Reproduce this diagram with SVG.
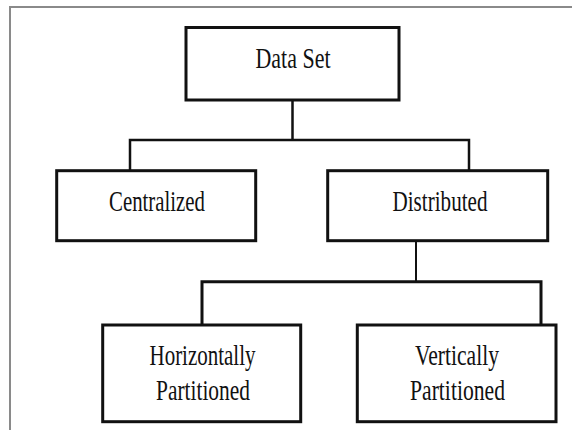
<svg xmlns="http://www.w3.org/2000/svg" width="572" height="430" viewBox="0 0 572 430">
<style>
.box{fill:#fff;stroke:#111;stroke-width:3}
.lbl{font-family:'Liberation Serif','Times New Roman','DejaVu Serif',serif;font-size:29px;fill:#111;text-anchor:middle}
.con{fill:none;stroke:#111;stroke-linejoin:miter}
</style>
<rect x="0" y="0" width="572" height="430" fill="#fff"/>
<path d="M10,430 V7 H572" fill="none" stroke="#8a8a8a" stroke-width="2"/>
<g id="connectors">
<path class="con" stroke-width="2.5" d="M292.5,100 V140 M130,170 V140 H469 V170"/>
<path class="con" stroke-width="2" d="M416,240.7 V281.7"/>
<path class="con" stroke-width="3" d="M202,325 V281.7 H541 V325"/>
</g>
<g id="n-dataset">
<rect class="box" x="186" y="27.5" width="213" height="72.5"/>
<text class="lbl" font-family="Liberation Serif, serif" x="293" y="68" textLength="75" lengthAdjust="spacingAndGlyphs">Data Set</text>
</g>
<g id="n-centralized">
<rect class="box" x="56.7" y="170.7" width="199" height="70"/>
<text class="lbl" font-family="Liberation Serif, serif" x="157" y="211" textLength="96" lengthAdjust="spacingAndGlyphs">Centralized</text>
</g>
<g id="n-distributed">
<rect class="box" x="327.7" y="170.7" width="220" height="70"/>
<text class="lbl" font-family="Liberation Serif, serif" x="440" y="211" textLength="95" lengthAdjust="spacingAndGlyphs">Distributed</text>
</g>
<g id="n-horizontal">
<rect class="box" x="102.7" y="325" width="198" height="96.7"/>
<text class="lbl" font-family="Liberation Serif, serif" x="202.5" y="365" textLength="106" lengthAdjust="spacingAndGlyphs">Horizontally</text>
<text class="lbl" font-family="Liberation Serif, serif" x="203" y="400" textLength="94" lengthAdjust="spacingAndGlyphs">Partitioned</text>
</g>
<g id="n-vertical">
<rect class="box" x="357.3" y="325" width="198.7" height="96.7"/>
<text class="lbl" font-family="Liberation Serif, serif" x="457" y="365" textLength="84" lengthAdjust="spacingAndGlyphs">Vertically</text>
<text class="lbl" font-family="Liberation Serif, serif" x="457.5" y="400" textLength="95" lengthAdjust="spacingAndGlyphs">Partitioned</text>
</g>
</svg>
